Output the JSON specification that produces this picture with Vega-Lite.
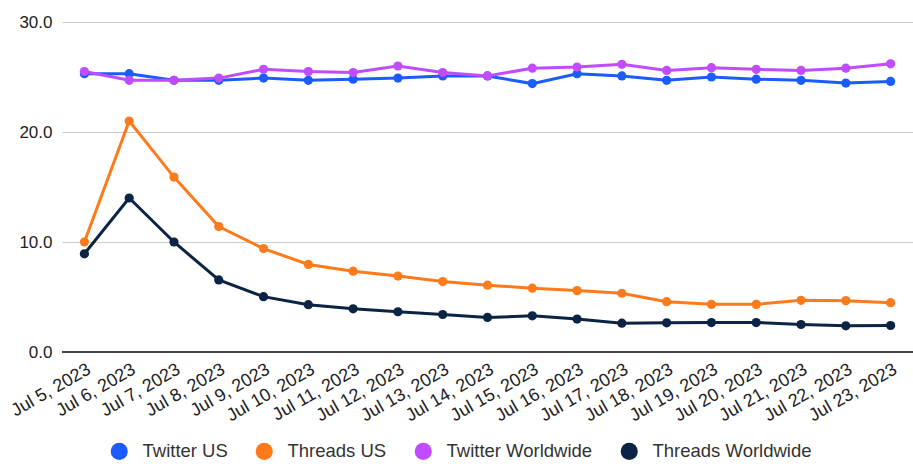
{
  "$schema": "https://vega.github.io/schema/vega-lite/v6.json",
  "autosize": "none",
  "width": 851,
  "height": 330,
  "padding": {"left": 62, "top": 22, "right": 0, "bottom": 112},
  "background": "white",
  "config": {
    "font": "Liberation Sans",
    "view": {"stroke": null}
  },
  "data": {
    "values": [
      {"date": "Jul 5, 2023", "series": "Twitter US", "value": 25.3},
      {"date": "Jul 6, 2023", "series": "Twitter US", "value": 25.3},
      {"date": "Jul 7, 2023", "series": "Twitter US", "value": 24.7},
      {"date": "Jul 8, 2023", "series": "Twitter US", "value": 24.7},
      {"date": "Jul 9, 2023", "series": "Twitter US", "value": 24.9},
      {"date": "Jul 10, 2023", "series": "Twitter US", "value": 24.7},
      {"date": "Jul 11, 2023", "series": "Twitter US", "value": 24.8},
      {"date": "Jul 12, 2023", "series": "Twitter US", "value": 24.9},
      {"date": "Jul 13, 2023", "series": "Twitter US", "value": 25.1},
      {"date": "Jul 14, 2023", "series": "Twitter US", "value": 25.1},
      {"date": "Jul 15, 2023", "series": "Twitter US", "value": 24.4},
      {"date": "Jul 16, 2023", "series": "Twitter US", "value": 25.3},
      {"date": "Jul 17, 2023", "series": "Twitter US", "value": 25.1},
      {"date": "Jul 18, 2023", "series": "Twitter US", "value": 24.7},
      {"date": "Jul 19, 2023", "series": "Twitter US", "value": 25.0},
      {"date": "Jul 20, 2023", "series": "Twitter US", "value": 24.8},
      {"date": "Jul 21, 2023", "series": "Twitter US", "value": 24.7},
      {"date": "Jul 22, 2023", "series": "Twitter US", "value": 24.45},
      {"date": "Jul 23, 2023", "series": "Twitter US", "value": 24.6},

      {"date": "Jul 5, 2023", "series": "Threads US", "value": 10.0},
      {"date": "Jul 6, 2023", "series": "Threads US", "value": 21.0},
      {"date": "Jul 7, 2023", "series": "Threads US", "value": 15.9},
      {"date": "Jul 8, 2023", "series": "Threads US", "value": 11.4},
      {"date": "Jul 9, 2023", "series": "Threads US", "value": 9.4},
      {"date": "Jul 10, 2023", "series": "Threads US", "value": 7.96},
      {"date": "Jul 11, 2023", "series": "Threads US", "value": 7.35},
      {"date": "Jul 12, 2023", "series": "Threads US", "value": 6.9},
      {"date": "Jul 13, 2023", "series": "Threads US", "value": 6.4},
      {"date": "Jul 14, 2023", "series": "Threads US", "value": 6.07},
      {"date": "Jul 15, 2023", "series": "Threads US", "value": 5.8},
      {"date": "Jul 16, 2023", "series": "Threads US", "value": 5.58},
      {"date": "Jul 17, 2023", "series": "Threads US", "value": 5.34},
      {"date": "Jul 18, 2023", "series": "Threads US", "value": 4.57},
      {"date": "Jul 19, 2023", "series": "Threads US", "value": 4.33},
      {"date": "Jul 20, 2023", "series": "Threads US", "value": 4.33},
      {"date": "Jul 21, 2023", "series": "Threads US", "value": 4.7},
      {"date": "Jul 22, 2023", "series": "Threads US", "value": 4.67},
      {"date": "Jul 23, 2023", "series": "Threads US", "value": 4.48},

      {"date": "Jul 5, 2023", "series": "Twitter Worldwide", "value": 25.5},
      {"date": "Jul 6, 2023", "series": "Twitter Worldwide", "value": 24.7},
      {"date": "Jul 7, 2023", "series": "Twitter Worldwide", "value": 24.7},
      {"date": "Jul 8, 2023", "series": "Twitter Worldwide", "value": 24.9},
      {"date": "Jul 9, 2023", "series": "Twitter Worldwide", "value": 25.7},
      {"date": "Jul 10, 2023", "series": "Twitter Worldwide", "value": 25.5},
      {"date": "Jul 11, 2023", "series": "Twitter Worldwide", "value": 25.4},
      {"date": "Jul 12, 2023", "series": "Twitter Worldwide", "value": 26.0},
      {"date": "Jul 13, 2023", "series": "Twitter Worldwide", "value": 25.4},
      {"date": "Jul 14, 2023", "series": "Twitter Worldwide", "value": 25.1},
      {"date": "Jul 15, 2023", "series": "Twitter Worldwide", "value": 25.8},
      {"date": "Jul 16, 2023", "series": "Twitter Worldwide", "value": 25.9},
      {"date": "Jul 17, 2023", "series": "Twitter Worldwide", "value": 26.15},
      {"date": "Jul 18, 2023", "series": "Twitter Worldwide", "value": 25.6},
      {"date": "Jul 19, 2023", "series": "Twitter Worldwide", "value": 25.85},
      {"date": "Jul 20, 2023", "series": "Twitter Worldwide", "value": 25.7},
      {"date": "Jul 21, 2023", "series": "Twitter Worldwide", "value": 25.6},
      {"date": "Jul 22, 2023", "series": "Twitter Worldwide", "value": 25.8},
      {"date": "Jul 23, 2023", "series": "Twitter Worldwide", "value": 26.2},

      {"date": "Jul 5, 2023", "series": "Threads Worldwide", "value": 8.93},
      {"date": "Jul 6, 2023", "series": "Threads Worldwide", "value": 14.0},
      {"date": "Jul 7, 2023", "series": "Threads Worldwide", "value": 10.0},
      {"date": "Jul 8, 2023", "series": "Threads Worldwide", "value": 6.55},
      {"date": "Jul 9, 2023", "series": "Threads Worldwide", "value": 5.03},
      {"date": "Jul 10, 2023", "series": "Threads Worldwide", "value": 4.3},
      {"date": "Jul 11, 2023", "series": "Threads Worldwide", "value": 3.93},
      {"date": "Jul 12, 2023", "series": "Threads Worldwide", "value": 3.66},
      {"date": "Jul 13, 2023", "series": "Threads Worldwide", "value": 3.41},
      {"date": "Jul 14, 2023", "series": "Threads Worldwide", "value": 3.14},
      {"date": "Jul 15, 2023", "series": "Threads Worldwide", "value": 3.29},
      {"date": "Jul 16, 2023", "series": "Threads Worldwide", "value": 2.99},
      {"date": "Jul 17, 2023", "series": "Threads Worldwide", "value": 2.62},
      {"date": "Jul 18, 2023", "series": "Threads Worldwide", "value": 2.65},
      {"date": "Jul 19, 2023", "series": "Threads Worldwide", "value": 2.68},
      {"date": "Jul 20, 2023", "series": "Threads Worldwide", "value": 2.68},
      {"date": "Jul 21, 2023", "series": "Threads Worldwide", "value": 2.5},
      {"date": "Jul 22, 2023", "series": "Threads Worldwide", "value": 2.38},
      {"date": "Jul 23, 2023", "series": "Threads Worldwide", "value": 2.41}
    ]
  },
  "encoding": {
    "x": {
      "field": "date",
      "type": "ordinal",
      "sort": null,
      "scale": {"type": "point", "padding": 0.5},
      "axis": {
        "title": null,
        "labelAngle": -30,
        "labelAlign": "right",
        "labelBaseline": "top",
        "labelFontSize": 18,
        "labelColor": "#222222",
        "labelPadding": 8,
        "labelOverlap": false,
        "ticks": false,
        "domain": false,
        "grid": false
      }
    },
    "y": {
      "field": "value",
      "type": "quantitative",
      "scale": {"domain": [0, 30], "nice": false},
      "axis": {
        "title": null,
        "values": [0, 10, 20, 30],
        "format": ".1f",
        "labelFontSize": 17,
        "labelColor": "#222222",
        "labelPadding": 10,
        "ticks": false,
        "domain": false,
        "grid": true,
        "gridColor": "#cccccc",
        "gridWidth": 1
      }
    },
    "color": {
      "field": "series",
      "type": "nominal",
      "sort": ["Twitter US", "Threads US", "Twitter Worldwide", "Threads Worldwide"],
      "scale": {
        "domain": ["Twitter US", "Threads US", "Twitter Worldwide", "Threads Worldwide"],
        "range": ["#1A5CFF", "#FF7A1A", "#C04BFF", "#0B2444"]
      },
      "legend": {
        "title": null,
        "orient": "none",
        "legendX": 48,
        "legendY": 420,
        "direction": "horizontal",
        "symbolType": "circle",
        "symbolSize": 290,
        "symbolStrokeWidth": 0,
        "labelFontSize": 18.5,
        "labelLimit": 400,
        "labelColor": "#333333",
        "labelOffset": 14,
        "columnPadding": 27
      }
    },
    "order": {"field": "series", "sort": "ascending"}
  },
  "layer": [
    {
      "mark": {"type": "rule", "color": "#444444", "strokeWidth": 2},
      "data": {"values": [{"zero": 0}]},
      "encoding": {
        "y": {"field": "zero", "type": "quantitative"},
        "x": null,
        "color": null,
        "order": null
      }
    },
    {
      "mark": {"type": "line", "strokeWidth": 3},
      "encoding": {
        "detail": {"field": "series"}
      }
    },
    {
      "mark": {"type": "point", "filled": true, "size": 85, "opacity": 1}
    }
  ]
}
